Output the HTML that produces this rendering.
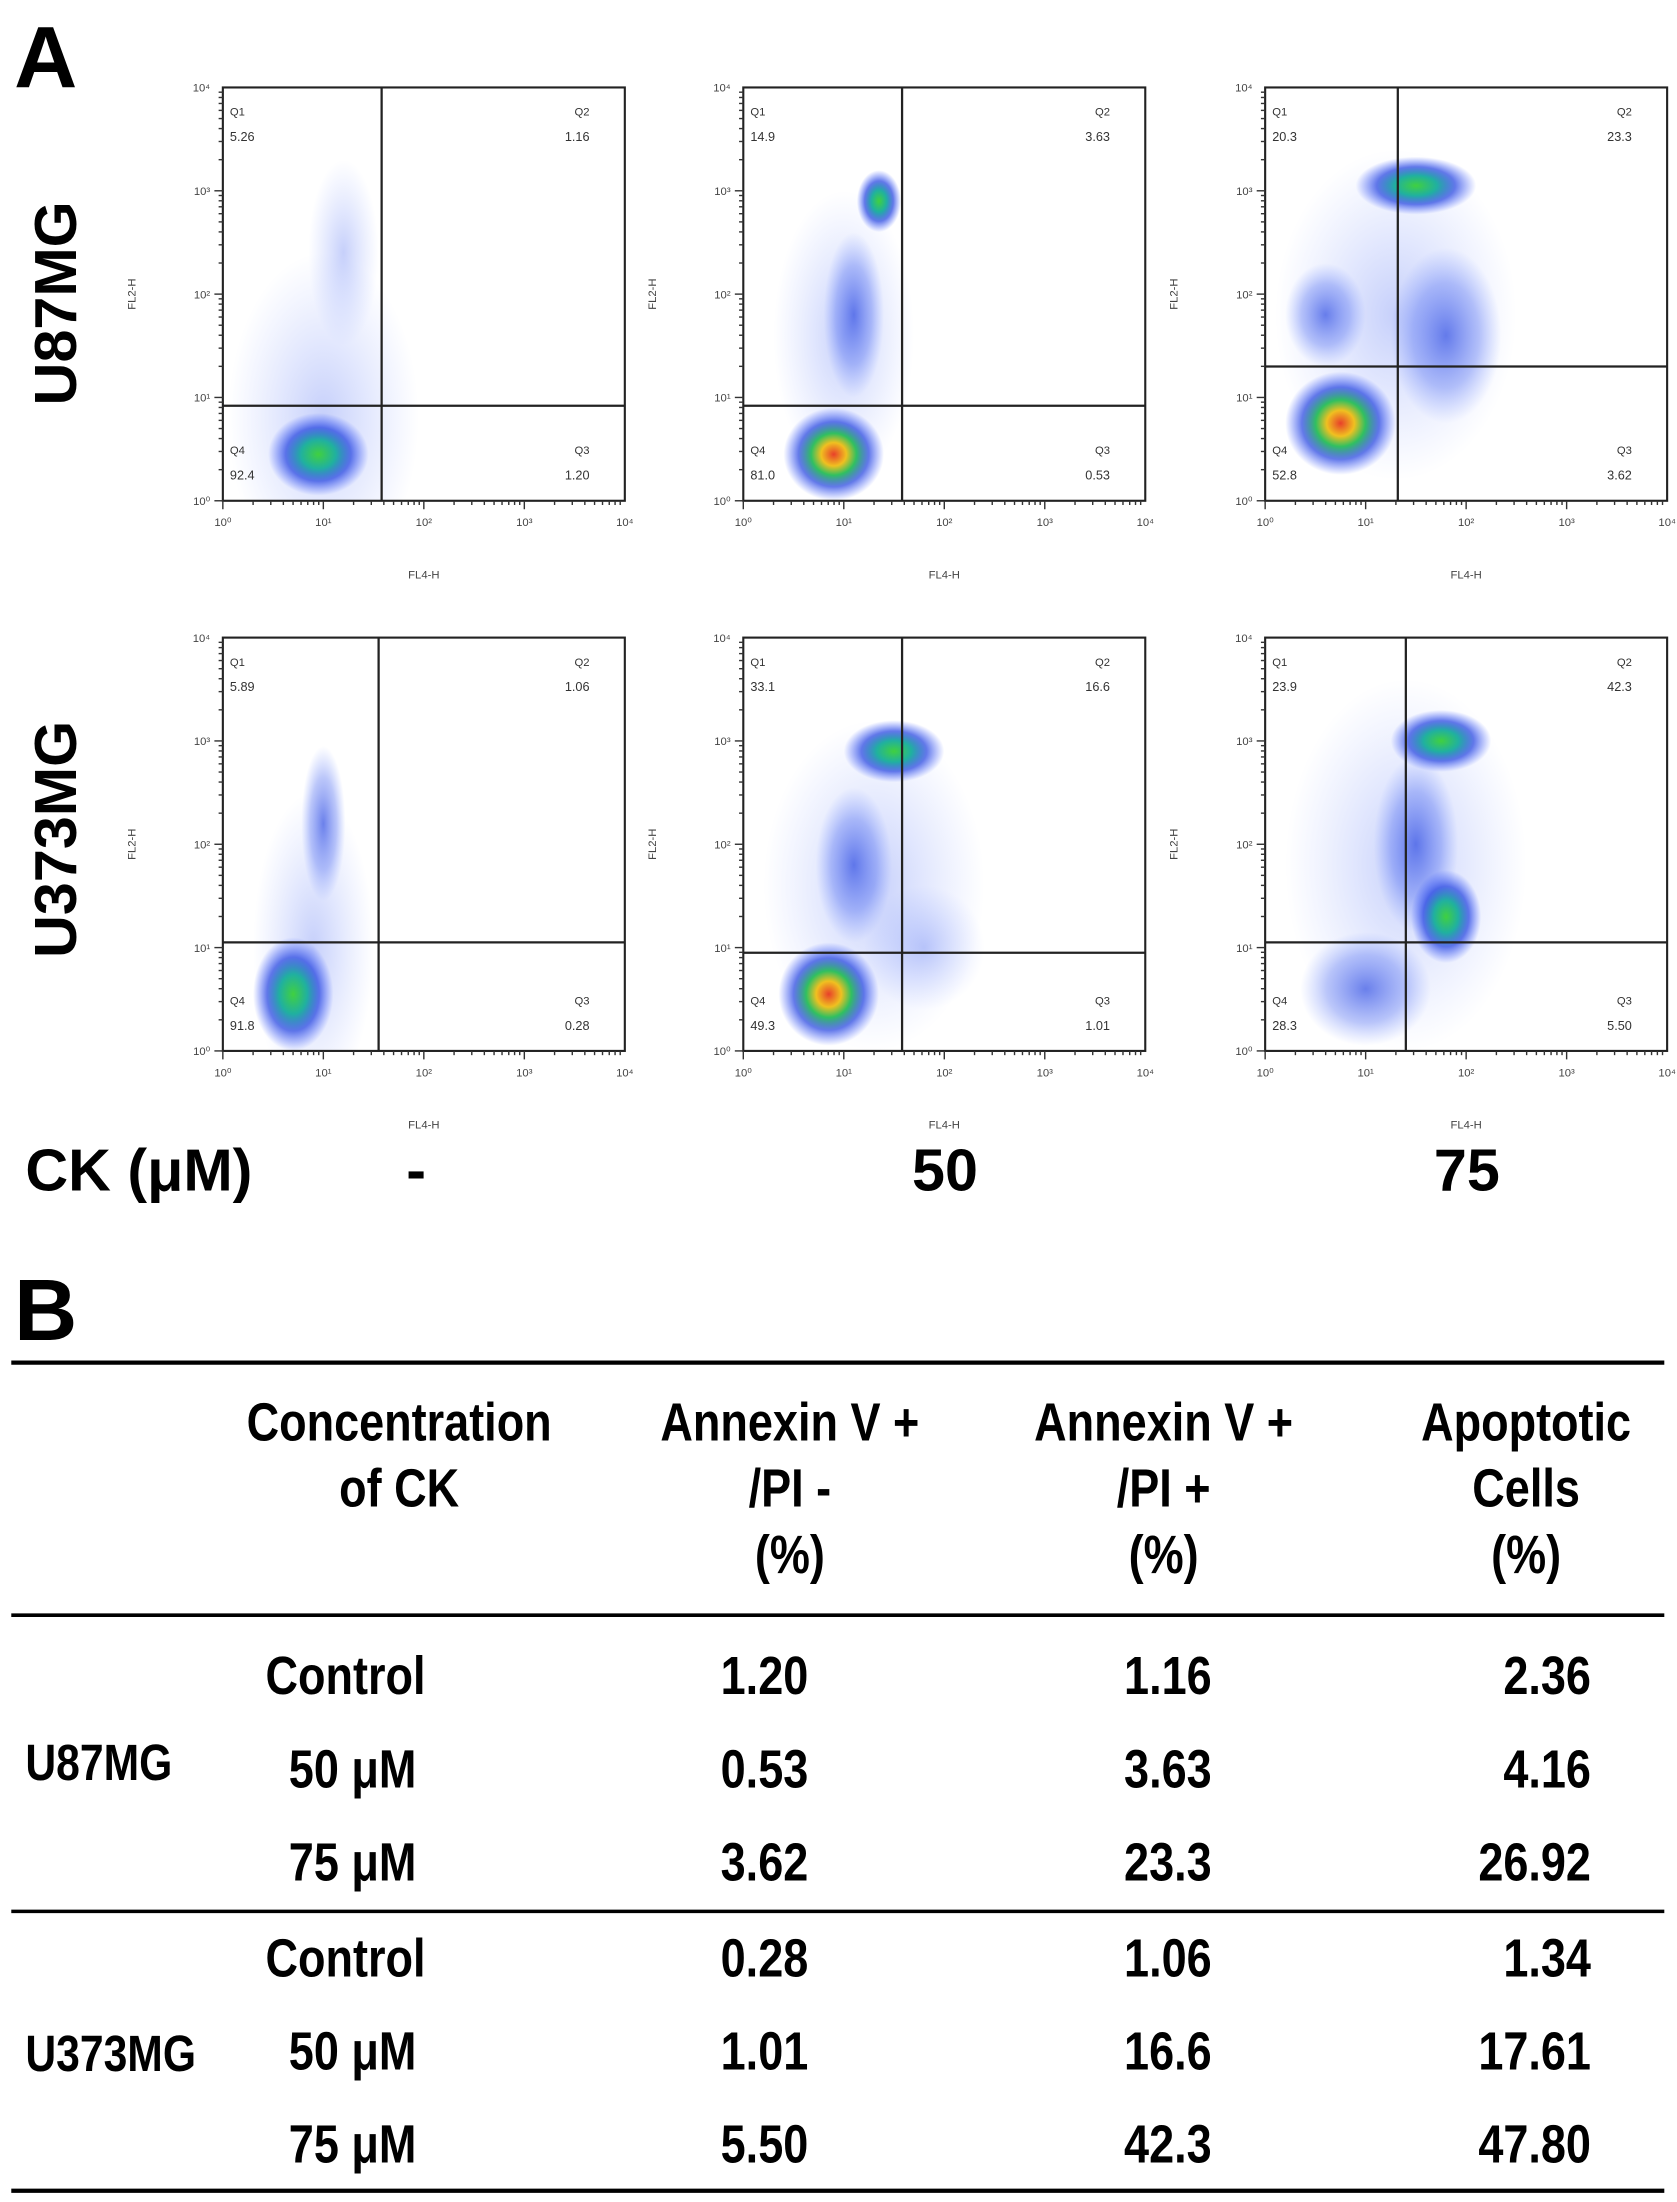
<!DOCTYPE html>
<html><head><meta charset="utf-8"><style>
html,body{margin:0;padding:0;background:#fff;}
svg{display:block;font-family:"Liberation Sans",sans-serif;}
</style></head><body>
<svg id="fig" xmlns="http://www.w3.org/2000/svg" width="1677" height="2202" viewBox="0 0 1189 1561" preserveAspectRatio="none">
<defs>
<radialGradient id="gHot"><stop offset="0" stop-color="#e8402a"/><stop offset="0.25" stop-color="#f0c020"/><stop offset="0.45" stop-color="#30c060"/><stop offset="0.7" stop-color="#2040e0" stop-opacity="0.7"/><stop offset="1" stop-color="#3050ff" stop-opacity="0"/></radialGradient>
<radialGradient id="gGreen"><stop offset="0" stop-color="#40d040"/><stop offset="0.35" stop-color="#20b0a0"/><stop offset="0.65" stop-color="#2040e0" stop-opacity="0.7"/><stop offset="1" stop-color="#3050ff" stop-opacity="0"/></radialGradient>
<radialGradient id="gBlue"><stop offset="0" stop-color="#2040e0" stop-opacity="0.65"/><stop offset="0.6" stop-color="#4060f0" stop-opacity="0.35"/><stop offset="1" stop-color="#6080ff" stop-opacity="0"/></radialGradient>
<radialGradient id="gSparse"><stop offset="0" stop-color="#4060f0" stop-opacity="0.3"/><stop offset="1" stop-color="#6080ff" stop-opacity="0"/></radialGradient>
</defs>
<g id="panels"></g>
<g id="labels">
<text x="10" y="62" font-size="62" font-weight="bold">A</text>
<text transform="translate(54,215) rotate(-90)" text-anchor="middle" font-size="42" font-weight="bold">U87MG</text>
<text transform="translate(54,595) rotate(-90)" text-anchor="middle" font-size="42" font-weight="bold">U373MG</text>
<text x="18" y="844" font-size="42" font-weight="bold">CK (μM)</text>
<text x="295" y="844" text-anchor="middle" font-size="42" font-weight="bold">-</text>
<text x="670" y="844" text-anchor="middle" font-size="42" font-weight="bold">50</text>
<text x="1040" y="844" text-anchor="middle" font-size="42" font-weight="bold">75</text>
<text x="10" y="950" font-size="62" font-weight="bold">B</text>
</g>
<g id="table"></g>
</svg>
<script>
const NS="http://www.w3.org/2000/svg";
// ---- flow panel data ----
const panelCols=[158,527,897];
const panelRows=[62,452];
const quadValues=[
 ["5.26","1.16","92.4","1.20"],["14.9","3.63","81.0","0.53"],["20.3","23.3","52.8","3.62"],
 ["5.89","1.06","91.8","0.28"],["33.1","16.6","49.3","1.01"],["23.9","42.3","28.3","5.50"]];
const gateX=[1.58,1.58,1.32,1.55,1.58,1.40];
const gateY=[0.92,0.92,1.30,1.05,0.95,1.05];
// clusters: [panel, logx, logy, rx(decades), ry(decades), type]
const clusters=[
 [0,1.0,0.8,0.95,1.6,"gSparse"],[0,0.95,0.45,0.5,0.4,"gGreen"],[0,1.2,2.4,0.35,0.9,"gSparse"],
 [1,1.0,1.6,0.7,1.4,"gSparse"],[1,0.9,0.45,0.5,0.45,"gHot"],[1,1.35,2.9,0.22,0.3,"gGreen"],[1,1.1,1.8,0.3,0.8,"gBlue"],
 [2,1.3,1.8,1.2,1.6,"gSparse"],[2,0.75,0.75,0.55,0.5,"gHot"],[2,1.5,3.05,0.6,0.28,"gGreen"],[2,0.6,1.8,0.4,0.5,"gBlue"],[2,1.8,1.6,0.55,0.85,"gBlue"],
 [3,0.9,1.0,0.6,1.5,"gSparse"],[3,0.7,0.55,0.4,0.55,"gGreen"],[3,1.0,2.2,0.22,0.75,"gBlue"],
 [4,1.3,1.6,1.1,1.6,"gSparse"],[4,0.85,0.55,0.5,0.5,"gHot"],[4,1.5,2.9,0.5,0.3,"gGreen"],[4,1.1,1.8,0.38,0.75,"gBlue"],[4,1.8,1.0,0.6,0.6,"gSparse"],
 [5,1.4,1.8,1.2,1.8,"gSparse"],[5,1.75,3.0,0.5,0.3,"gGreen"],[5,1.5,2.0,0.42,0.85,"gBlue"],[5,1.0,0.6,0.65,0.55,"gBlue"],[5,1.8,1.3,0.35,0.45,"gGreen"]];
const decadeLabels=["10⁰","10¹","10²","10³","10⁴"];
const PW=285,PH=293;
const g=document.getElementById('panels');
function el(t,a,p){const e=document.createElementNS(NS,t);for(const k in a)e.setAttribute(k,a[k]);(p||g).appendChild(e);return e;}
for(let i=0;i<6;i++){
 const x0=panelCols[i%3],y0=panelRows[Math.floor(i/3)];
 const sx=v=>x0+v/4*PW, sy=v=>y0+PH-v/4*PH;
 const pg=el('g',{});
 
 
 const clip=el('clipPath',{id:'c'+i},pg);el('rect',{x:x0,y:y0,width:PW,height:PH},clip);
 const cg=el('g',{'clip-path':'url(#c'+i+')'},pg);
 clusters.filter(c=>c[0]===i).forEach(c=>{
  const e=el('ellipse',{cx:sx(c[1]),cy:sy(c[2]),rx:c[3]/4*PW,ry:c[4]/4*PH,fill:'url(#'+c[5]+')'},cg);
  
  
 });
 const fr=el('rect',{x:x0,y:y0,width:PW,height:PH,fill:'none',stroke:'#222','stroke-width':1.5},pg);
 
 
 const gv=el('line',{x1:sx(gateX[i]),x2:sx(gateX[i]),y1:y0,y2:y0+PH,stroke:'#222','stroke-width':1.6},pg);
 
 
 const gh=el('line',{x1:x0,x2:x0+PW,y1:sy(gateY[i]),y2:sy(gateY[i]),stroke:'#222','stroke-width':1.6},pg);
 
 
 for(let d=0;d<=4;d++){
  for(let m=1;m<10&&d<4;m++){const o=d+Math.log10(m);
   el('line',{x1:sx(o),x2:sx(o),y1:y0+PH,y2:y0+PH+(m==1?6:3),stroke:'#333','stroke-width':1},pg);
   el('line',{x1:x0,x2:x0-(m==1?6:3),y1:sy(o),y2:sy(o),stroke:'#333','stroke-width':1},pg);}
  const tx=el('text',{x:sx(d),y:y0+PH+18,'font-size':8,'text-anchor':'middle',fill:'#444'},pg);tx.textContent=decadeLabels[d];
  
  
  const ty=el('text',{x:x0-9,y:sy(d)+3,'font-size':8,'text-anchor':'end',fill:'#444'},pg);ty.textContent=decadeLabels[d];
  
  
 }
 const xl=el('text',{x:x0+PW/2,y:y0+PH+55,'font-size':8,'text-anchor':'middle',fill:'#444'},pg);xl.textContent='FL4-H';
 
 
 const yl=el('text',{transform:`translate(${x0-62},${y0+PH/2}) rotate(-90)`,'font-size':8,'text-anchor':'middle',fill:'#444'},pg);yl.textContent='FL2-H';
 
 
 const q=quadValues[i];
 const pos=[[x0+5,y0+20,'start','Q1'],[x0+PW-25,y0+20,'end','Q2'],[x0+5,y0+PH-33,'start','Q4'],[x0+PW-25,y0+PH-33,'end','Q3']];
 pos.forEach((p,k)=>{
  const a=el('text',{x:p[0],y:p[1],'font-size':8,'text-anchor':p[2],fill:'#333'},pg);a.textContent=p[3];
  
  
  const b=el('text',{x:p[0],y:p[1]+18,'font-size':9,'text-anchor':p[2],fill:'#333'},pg);b.textContent=q[k];
  
  
 });
}
// ---- table ----
const tb=document.getElementById('table');
const colHeaders=[["Concentration","of CK"],["Annexin V +","/PI -","(%)"],["Annexin V +","/PI +","(%)"],["Apoptotic","Cells","(%)"]];
const colX=[283,560,825,1082];
const concLabels=["Control","50 μM","75 μM","Control","50 μM","75 μM"];
const earlyVals=["1.20","0.53","3.62","0.28","1.01","5.50"];
const lateVals=["1.16","3.63","23.3","1.06","16.6","42.3"];
const totalVals=["2.36","4.16","26.92","1.34","17.61","47.80"];
const rowY=[1201,1267,1333,1401,1467,1533];
function tt(x,y,s,anchor,size,name){
 const t=el('text',{transform:`translate(${x},${y}) scale(0.84,1)`,'text-anchor':anchor,'font-size':size,'font-weight':'bold'},tb);
 t.textContent=s;
 
 
}
[[966,3],[1145,2.5],[1355,2.5],[1553,3]].forEach(l=>{
 const r=el('line',{x1:8,x2:1180,y1:l[0],y2:l[0],stroke:'#000','stroke-width':l[1]},tb);
 
 
});
colHeaders.forEach((h,c)=>h.forEach((s,k)=>tt(colX[c],1021+k*47,s,'middle',38,'column-header')));
concLabels.forEach((s,r)=>tt(c0(r),rowY[r],s,'middle',38,'concentration-label'));
function c0(r){return (r%3===0)?245:250;}
earlyVals.forEach((s,r)=>tt(542,rowY[r],s,'middle',38,'annexin-pi-neg-value'));
lateVals.forEach((s,r)=>tt(828,rowY[r],s,'middle',38,'annexin-pi-pos-value'));
totalVals.forEach((s,r)=>tt(1128,rowY[r],s,'end',38,'apoptotic-cells-value'));
tt(18,1262,'U87MG','start',36,'cell-line-u87mg');
tt(18,1468,'U373MG','start',36,'cell-line-u373mg');
</script>
</body></html>
